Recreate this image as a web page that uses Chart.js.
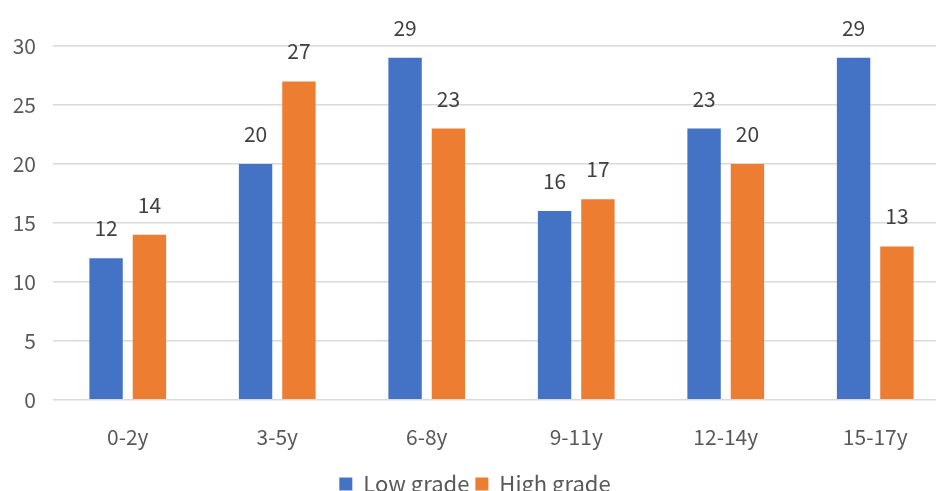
<!DOCTYPE html>
<html lang="en">
<head>
    <meta charset="UTF-8">
    <title>Grade by age</title>
    <script src="https://cdn.jsdelivr.net/npm/chart.js"></script>
    <style>
        html, body { margin: 0; padding: 0; background: #fff; overflow: hidden; }
        /* plot runs a little past the right edge, as in the source image */
        .chart-container { width: 950px; height: 491px; }
    </style>
</head>
<body>
    <div class="chart-container">
        <canvas id="gradeChart"></canvas>
    </div>

    <script>
        const ageGroups = ['0-2y', '3-5y', '6-8y', '9-11y', '12-14y', '15-17y'];
        const lowGrade = [12, 20, 29, 16, 23, 29];
        const highGrade = [14, 27, 23, 17, 20, 13];
        const yTicks = [0, 5, 10, 15, 20, 25, 30];

        const FONT = '"Noto Sans CJK SC", "Noto Sans", sans-serif';
        const TEXT = '#595959';

        // value labels above each bar
        const barLabels = {
            id: 'barLabels',
            afterDatasetsDraw(chart) {
                const ctx = chart.ctx;
                ctx.save();
                ctx.font = '21px ' + FONT;
                ctx.fillStyle = '#404040';
                ctx.textAlign = 'center';
                ctx.textBaseline = 'middle';
                chart.data.datasets.forEach((ds, i) => {
                    chart.getDatasetMeta(i).data.forEach((bar, j) => {
                        ctx.fillText(ds.data[j], bar.x, bar.y - 30);
                    });
                });
                ctx.restore();
            }
        };

        const ctx = document.getElementById('gradeChart').getContext('2d');
        const chart = new Chart(ctx, {
            type: 'bar',
            data: {
                labels: ageGroups,
                datasets: [{
                    label: 'Low grade',
                    data: lowGrade,
                    backgroundColor: '#4472C4'
                }, {
                    label: 'High grade',
                    data: highGrade,
                    backgroundColor: '#ED7D31'
                }]
            },
            options: {
                responsive: true,
                maintainAspectRatio: false,
                animation: false,
                categoryPercentage: 0.58,
                barPercentage: 0.77,
                layout: { padding: { top: 46, right: 0, left: 0, bottom: -14 } },
                plugins: {
                    tooltip: { enabled: false },
                    legend: {
                        position: 'bottom',
                        labels: {
                            font: { family: FONT, size: 22 },
                            color: TEXT,
                            boxWidth: 13,
                            boxHeight: 13,
                            padding: 6
                        }
                    }
                },
                scales: {
                    x: {
                        grid: { display: false },
                        border: { display: false },
                        ticks: { font: { family: FONT, size: 21 }, color: TEXT, padding: 17 }
                    },
                    y: {
                        min: 0,
                        max: 30,
                        afterBuildTicks: axis => { axis.ticks = yTicks.map(v => ({ value: v })); },
                        afterFit: axis => { axis.width = 53; },
                        grid: { color: '#D9D9D9', lineWidth: 1.5, drawTicks: false },
                        border: { display: false },
                        ticks: { font: { family: FONT, size: 21 }, color: TEXT, padding: 17 }
                    }
                }
            },
            plugins: [barLabels]
        });
    </script>
</body>
</html>
